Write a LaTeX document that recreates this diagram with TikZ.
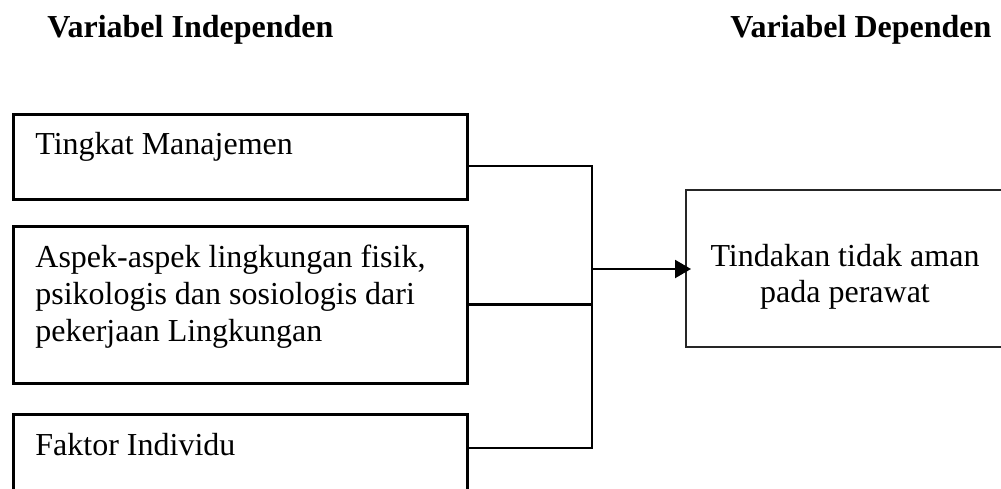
\documentclass[tikz,border=0pt]{standalone}
\usepackage{fontspec}
\setmainfont{Liberation Serif}
\usetikzlibrary{arrows.meta}
\begin{document}
\begin{tikzpicture}[x=0.5pt,y=-0.5pt,
  box/.style={draw, line width=1.25pt, minimum width=227pt, anchor=north west, inner sep=0pt},
  outbox/.style={draw=black!85, line width=0.9pt, minimum width=165pt, minimum height=78.5pt, anchor=north west, inner sep=0pt},
  lbl/.style={anchor=base west, inner sep=0pt, font=\fontsize{16}{18}\selectfont},
  clbl/.style={anchor=base, inner sep=0pt, font=\fontsize{16}{18}\selectfont},
  head/.style={anchor=base west, inner sep=0pt, font=\fontsize{16}{18}\selectfont\bfseries},
  conn/.style={line width=1.45pt},
  arr/.style={line width=1.1pt, -{Triangle[length=8pt,width=9pt]}, shorten >=-3pt}]
\useasboundingbox (0,0) rectangle (1001,488);
\clip (0,0) rectangle (1001,488);

% column headings
\node[head] (hi) at (47,37) {Variabel Independen};
\node[head] (hd) at (730,37) {Variabel Dependen};

% independent variables
\node[box, minimum height=42.5pt] (b1) at (12,113) {};
\node[box, minimum height=78.5pt] (b2) at (12,225) {};
\node[box, minimum height=45pt]   (b3) at (12,413) {};

\node[lbl] (t1)  at (35,154) {Tingkat Manajemen};
\node[lbl] (t2a) at (35,267) {Aspek-aspek lingkungan fisik,};
\node[lbl] (t2b) at (35,304) {psikologis dan sosiologis dari};
\node[lbl] (t2c) at (35,341) {pekerjaan Lingkungan};
\node[lbl] (t3)  at (35,455) {Faktor Individu};

% dependent variable
\node[outbox] (out) at (685,189) {};
\node[clbl] (o1) at (845,266) {Tindakan tidak aman};
\node[clbl] (o2) at (845,302) {pada perawat};

% joining bracket and arrow
\coordinate (jt) at (592,166);
\coordinate (jb) at (592,448);
\coordinate (jm) at (592,269);
\draw[conn] (b1.east |- jt) -- (jt) -- (jb) -- (b3.east |- jb);
\draw[conn] (b2.east) -- (b2.east -| jt);
\draw[arr] (jm) -- (out.west |- jm);
\end{tikzpicture}
\end{document}
